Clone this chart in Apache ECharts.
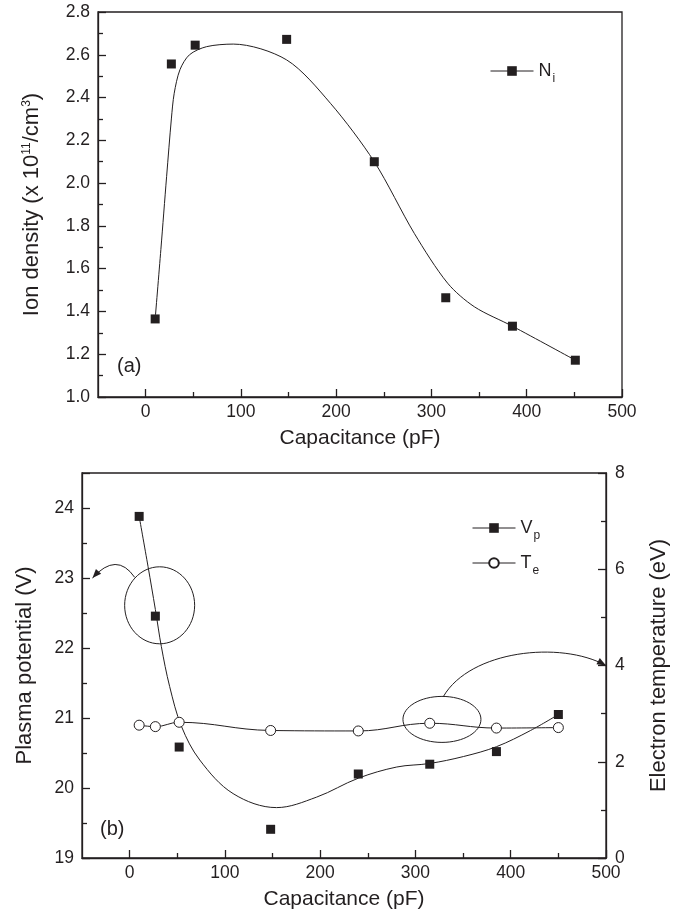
<!DOCTYPE html>
<html>
<head>
<meta charset="utf-8">
<script src="https://cdn.jsdelivr.net/npm/echarts@6/dist/echarts.min.js"></script>
<style>
html, body { margin: 0; padding: 0; background: #fff; }
#main { width: 679px; height: 916px; }
</style>
</head>
<body>
<div id="main"></div>
<script>
// (a) ion density
const capA = [10, 27, 52, 148, 240, 315, 385, 451];
const ionDensity = [1.365, 2.557, 2.645, 2.672, 2.10, 1.464, 1.331, 1.172];
// fitted curve drawn through (a)
const fitCapA = [10, 16, 22, 27, 30, 36, 46, 64, 92, 148, 194, 240, 282, 317, 345, 385, 451];
const fitIon = [1.365, 1.69, 2.03, 2.30, 2.42, 2.53, 2.60, 2.638, 2.65, 2.576, 2.373, 2.10, 1.765, 1.532, 1.422, 1.331, 1.172];

// (b) plasma potential and electron temperature
const capB = [10, 27, 52, 148, 240, 315, 385, 450];
const plasmaPot = [23.88, 22.455, 20.585, 19.41, 20.20, 20.34, 20.52, 21.05];
const elecTemp = [2.76, 2.73, 2.82, 2.65, 2.64, 2.80, 2.70, 2.71];
const fitCapB = [10, 19.3, 27, 33.3, 42, 54.4, 73.6, 108.6, 154.2, 196.3, 240, 280.4, 314.7, 350.5, 385, 420.6, 450];
const fitPot = [23.88, 23.165, 22.55, 22.02, 21.45, 20.88, 20.40, 19.92, 19.72, 19.87, 20.14, 20.30, 20.35, 20.45, 20.59, 20.82, 21.05];

const capTicks = [0, 100, 200, 300, 400, 500];
const capMinor = [50, 150, 250, 350, 450];

const ink = '#231f20';
const font = '"Liberation Sans", Arial, sans-serif';

const zip = (xs, ys) => xs.map((x, i) => [x, ys[i]]);

const chart = echarts.init(document.getElementById('main'));

const axLine = { onZero: false, lineStyle: { color: ink, width: 1.3 } };
const tickStyle = { color: ink, width: 1.3 };
const labelStyle = { fontSize: 17.5, color: ink, fontFamily: font };
const nameStyle = { fontSize: 21, color: ink, fontFamily: font };

function capAxis(grid) {
	return {
		type: 'value', gridIndex: grid, min: -50, max: 500, interval: 50,
		name: 'Capacitance (pF)', nameLocation: 'middle', nameGap: 31,
		nameTextStyle: nameStyle,
		axisLine: axLine,
		axisTick: { inside: true, length: 8, customValues: capTicks, lineStyle: tickStyle },
		axisLabel: Object.assign({ customValues: capTicks, margin: 6 }, labelStyle),
		splitLine: { show: false }
	};
}
function capMinorAxis(grid) {
	return {
		type: 'value', gridIndex: grid, min: -50, max: 500, interval: 50, position: 'bottom',
		axisLine: { show: false },
		axisTick: { inside: true, length: 5, customValues: capMinor, lineStyle: tickStyle },
		axisLabel: { show: false },
		splitLine: { show: false }
	};
}

const legendRich = {
	m: { fontSize: 18, lineHeight: 28, color: ink, fontFamily: font },
	s: { fontSize: 12, lineHeight: 12, verticalAlign: 'bottom', color: ink, fontFamily: font, padding: [0, 0, 0, 1] }
};
const legendFmt = name => '{m|' + name[0] + '}{s|' + name.slice(1) + '}';

let option = {
	animation: false,
	backgroundColor: '#fff',
	textStyle: { fontFamily: font },
	grid: [
		{ left: 98, top: 12, width: 524, height: 385, show: true, borderColor: ink, borderWidth: 1.3 },
		{ left: 82, top: 473, width: 524, height: 385, show: true, borderColor: ink, borderWidth: 1.3 }
	],
	xAxis: [capAxis(0), capMinorAxis(0), capAxis(1), capMinorAxis(1)],
	yAxis: [
		{
			type: 'value', gridIndex: 0, min: 1, max: 2.8, interval: 0.2,
			name: 'Ion density (x 10{sup|11}/cm{sup|3})', nameLocation: 'middle', nameGap: 55, nameRotate: 90,
			nameTextStyle: { fontSize: 22, color: ink, fontFamily: font, rich: { sup: { fontSize: 12, verticalAlign: 'top', color: ink, fontFamily: font } } },
			axisLine: axLine,
			axisTick: { inside: true, length: 8, lineStyle: tickStyle },
			minorTick: { show: true, splitNumber: 2, length: 5, lineStyle: tickStyle },
			axisLabel: Object.assign({ margin: 8, formatter: v => v.toFixed(1) }, labelStyle),
			splitLine: { show: false }
		},
		{
			type: 'value', gridIndex: 1, min: 19, max: 24.5, interval: 1,
			name: 'Plasma potential (V)', nameLocation: 'middle', nameGap: 46, nameRotate: 90,
			nameTextStyle: Object.assign({}, nameStyle, { fontSize: 22 }),
			axisLine: axLine,
			axisTick: { inside: true, length: 8, lineStyle: tickStyle },
			minorTick: { show: true, splitNumber: 2, length: 5, lineStyle: tickStyle },
			axisLabel: Object.assign({ margin: 8, formatter: v => Number.isInteger(v) ? String(v) : '' }, labelStyle),
			splitLine: { show: false }
		},
		{
			type: 'value', gridIndex: 1, min: 0, max: 8, interval: 2, position: 'right',
			name: 'Electron temperature (eV)', nameLocation: 'middle', nameGap: 42, nameRotate: 90,
			nameTextStyle: Object.assign({}, nameStyle, { fontSize: 22 }),
			axisLine: axLine,
			axisTick: { inside: true, length: 8, lineStyle: tickStyle },
			minorTick: { show: true, splitNumber: 2, length: 5, lineStyle: tickStyle },
			axisLabel: Object.assign({ margin: 9 }, labelStyle),
			splitLine: { show: false }
		}
	],
	legend: [
		{
			data: ['Ni'], left: 485, top: 57, itemWidth: 43, itemHeight: 12,
			formatter: legendFmt, textStyle: { rich: legendRich },
			lineStyle: { opacity: 1, width: 1, color: ink }, selectedMode: false
		},
		{
			data: ['Vp', 'Te'], orient: 'vertical', left: 467, top: 514, itemGap: 12, itemWidth: 43, itemHeight: 12,
			formatter: legendFmt, textStyle: { rich: legendRich },
			lineStyle: { opacity: 1, width: 1, color: ink }, selectedMode: false
		}
	],
	series: [
		{
			name: 'Ni', type: 'line', xAxisIndex: 0, yAxisIndex: 0, data: zip(capA, ionDensity),
			symbol: 'rect', symbolSize: 9, itemStyle: { color: ink },
			lineStyle: { opacity: 0 }, z: 3, emphasis: { disabled: true }
		},
		{
			name: 'fitA', type: 'line', xAxisIndex: 0, yAxisIndex: 0, data: zip(fitCapA, fitIon),
			smooth: 0.3, symbol: 'none', lineStyle: { color: ink, width: 1 }, emphasis: { disabled: true }
		},
		{
			name: 'Vp', type: 'line', xAxisIndex: 2, yAxisIndex: 1, data: zip(capB, plasmaPot),
			symbol: 'rect', symbolSize: 9, itemStyle: { color: ink },
			lineStyle: { opacity: 0 }, z: 3, emphasis: { disabled: true }
		},
		{
			name: 'fitB', type: 'line', xAxisIndex: 2, yAxisIndex: 1, data: zip(fitCapB, fitPot),
			smooth: 0.35, symbol: 'none', lineStyle: { color: ink, width: 1 }, emphasis: { disabled: true }
		},
		{
			name: 'Te', type: 'line', xAxisIndex: 2, yAxisIndex: 2, data: zip(capB, elecTemp),
			smooth: 0.4, symbol: 'circle', symbolSize: 10,
			itemStyle: { color: '#fff', borderColor: ink, borderWidth: 1 },
			lineStyle: { color: ink, width: 1 }, z: 3, emphasis: { disabled: true }
		}
	]
};

chart.setOption(option);

// annotations: circles round the points, arrows to the axis each refers to
const toVp = pt => chart.convertToPixel({ xAxisIndex: 2, yAxisIndex: 1 }, pt);
const toTe = pt => chart.convertToPixel({ xAxisIndex: 2, yAxisIndex: 2 }, pt);

function arrowHead(tip, from) {
	const dx = tip[0] - from[0], dy = tip[1] - from[1];
	const len = Math.sqrt(dx * dx + dy * dy);
	const ux = dx / len, uy = dy / len;
	const L = 9, W = 3.5;
	const bx = tip[0] - ux * L, by = tip[1] - uy * L;
	return {
		type: 'polygon', silent: true,
		shape: { points: [tip, [bx - uy * W, by + ux * W], [bx + uy * W, by - ux * W]] },
		style: { fill: ink }
	};
}

const c1 = toVp([31.5, 22.61]);
const tip1 = toVp([-39, 23]);
const s1 = [c1[0] - 25, c1[1] - 28];
const cp1 = [c1[0] - 43, c1[1] - 54];

const c2 = toTe([327.8, 2.88]);
const tip2 = toTe([500, 4]);
const s2 = [c2[0] + 1.5, c2[1] - 23];
const cp2a = [s2[0] + 27, s2[1] - 46];
const cp2b = [s2[0] + 117, s2[1] - 56];

chart.setOption({
	graphic: [
		{ type: 'ellipse', silent: true, shape: { cx: c1[0], cy: c1[1], rx: 35, ry: 38.5 }, style: { fill: 'none', stroke: ink, lineWidth: 1 } },
		{ type: 'bezierCurve', silent: true, shape: { x1: s1[0], y1: s1[1], cpx1: cp1[0], cpy1: cp1[1], x2: tip1[0], y2: tip1[1] }, style: { fill: 'none', stroke: ink, lineWidth: 1 } },
		arrowHead(tip1, cp1),
		{ type: 'ellipse', silent: true, shape: { cx: c2[0], cy: c2[1], rx: 39, ry: 23 }, style: { fill: 'none', stroke: ink, lineWidth: 1 } },
		{ type: 'bezierCurve', silent: true, shape: { x1: s2[0], y1: s2[1], cpx1: cp2a[0], cpy1: cp2a[1], cpx2: cp2b[0], cpy2: cp2b[1], x2: tip2[0], y2: tip2[1] }, style: { fill: 'none', stroke: ink, lineWidth: 1 } },
		arrowHead(tip2, cp2b),
		{ type: 'text', left: 117, top: 356, style: { text: '(a)', fontSize: 20, fill: ink, fontFamily: font } },
		{ type: 'text', left: 100, top: 819, style: { text: '(b)', fontSize: 20, fill: ink, fontFamily: font } }
	]
});
</script>
</body>
</html>
